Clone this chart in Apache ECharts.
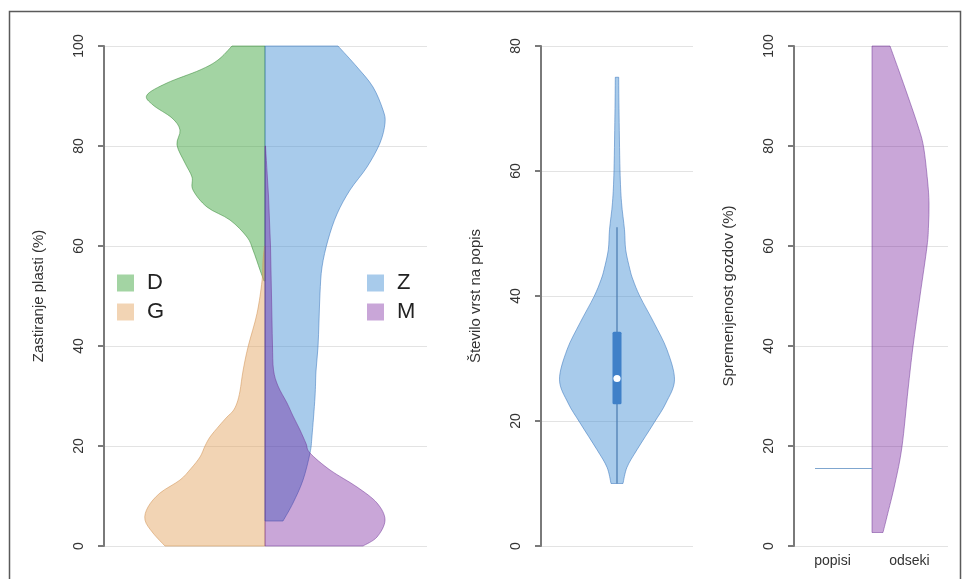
<!DOCTYPE html>
<html>
<head>
<meta charset="utf-8">
<script src="https://cdn.jsdelivr.net/npm/echarts@6/dist/echarts.min.js"></script>
<style>
  html, body { margin: 0; padding: 0; background: #ffffff; }
  #chart { width: 965px; height: 579px; }
</style>
</head>
<body>
<div id="chart"></div>
<script>
// ---- Panel 1: cover of layers (split violins, density half-widths) ----
const dLevels = [100, 97.2, 95.2, 92.6, 90.2, 88.2, 85.6, 83.2, 80.2, 76.6, 73.8, 71.2, 67.8, 65.2, 61.8, 59.2, 55.2, 53];
const dWidths = [0.33, 0.47, 0.65, 0.98, 1.18, 1.12, 0.93, 0.85, 0.88, 0.80, 0.73, 0.72, 0.58, 0.35, 0.18, 0.12, 0.05, 0.01];

const gLevels = [60, 57, 53, 46.5, 39.8, 35, 31, 28.6, 27, 25.8, 24, 21.8, 20, 17.8, 15.5, 13.2, 10.6, 7.8, 5.2, 2.6, 0];
const gWidths = [0.005, 0.02, 0.03, 0.08, 0.17, 0.22, 0.25, 0.28, 0.32, 0.38, 0.46, 0.55, 0.60, 0.65, 0.74, 0.85, 1.05, 1.17, 1.20, 1.12, 1.00];

const zLevels = [100, 95.8, 91.8, 87.2, 84.6, 80.6, 75.8, 71.2, 66.4, 61.2, 55.8, 50.6, 45, 39.8, 35, 29.8, 22, 18.6, 13.2, 8.6, 5];
const zWidths = [0.73, 0.92, 1.08, 1.18, 1.20, 1.15, 1.02, 0.85, 0.72, 0.63, 0.57, 0.55, 0.54, 0.53, 0.51, 0.50, 0.47, 0.45, 0.38, 0.28, 0.18];

const mLevels = [80, 75, 70, 65, 60, 55, 50, 45, 40, 35.2, 32, 28.6, 26, 23.2, 20.5, 18.6, 15.2, 11.8, 8.6, 5.2, 1.8, 0];
const mWidths = [0.005, 0.02, 0.035, 0.045, 0.055, 0.06, 0.065, 0.07, 0.075, 0.085, 0.13, 0.22, 0.28, 0.35, 0.41, 0.45, 0.65, 0.92, 1.12, 1.20, 1.12, 0.98];

// ---- Panel 2: number of species per relevé ----
const speciesLevels = [75, 70, 60.2, 55, 50.6, 47.4, 44.2, 42.6, 39.9, 35.7, 31.4, 26.6, 22.9, 19.7, 15.4, 12.6, 10];
const speciesWidths = [0.017, 0.02, 0.03, 0.045, 0.075, 0.087, 0.13, 0.16, 0.23, 0.37, 0.50, 0.575, 0.49, 0.37, 0.20, 0.10, 0.06];
// whisker low, Q1, median, Q3, whisker high
const speciesBox = [10, 22.7, 26.8, 34.3, 51];

// ---- Panel 3: forest alteration ----
const altCategories = ['popisi', 'odseki'];
const odsekiLevels = [100, 95, 89.9, 84, 79.9, 73.2, 68.6, 64, 59.9, 50, 39.9, 31.2, 19.9, 12.5, 5.9, 2.7];
const odsekiWidths = [0.18, 0.27, 0.36, 0.46, 0.515, 0.555, 0.57, 0.565, 0.55, 0.48, 0.41, 0.36, 0.30, 0.23, 0.15, 0.11];
const popisiValue = 15.5;
const popisiWidth = 0.57;

const colD = 'rgba(51,159,51,0.45)';
const colG = 'rgba(226,159,88,0.45)';
const colZ = 'rgba(62,139,211,0.45)';
const colM = 'rgba(100,1,144,0.35)';

const chart = echarts.init(document.getElementById('chart'), null, { renderer: 'canvas' });

// smooth curve through pixel points (Catmull-Rom as cubic Béziers)
function curveThrough(pts) {
  let d = '';
  for (let i = 0; i < pts.length - 1; i++) {
    const p0 = pts[Math.max(i - 1, 0)], p1 = pts[i], p2 = pts[i + 1], p3 = pts[Math.min(i + 2, pts.length - 1)];
    const c1 = [p1[0] + (p2[0] - p0[0]) / 6, p1[1] + (p2[1] - p0[1]) / 6];
    const c2 = [p2[0] - (p3[0] - p1[0]) / 6, p2[1] - (p3[1] - p1[1]) / 6];
    d += ' C' + c1[0] + ',' + c1[1] + ' ' + c2[0] + ',' + c2[1] + ' ' + p2[0] + ',' + p2[1];
  }
  return d;
}

// half violin: curved outer edge, closed along the centre line at base
function halfViolin(levels, widths, side, base, fill, stroke) {
  return function (params, api) {
    const edge = levels.map((v, i) => api.coord([base + side * widths[i], v]));
    const top = api.coord([base, levels[0]]);
    const bottom = api.coord([base, levels[levels.length - 1]]);
    const d = 'M' + top[0] + ',' + top[1] + ' L' + edge[0][0] + ',' + edge[0][1] +
      curveThrough(edge) + ' L' + bottom[0] + ',' + bottom[1] + ' Z';
    return {
      type: 'path',
      shape: { pathData: d },
      style: { fill: fill, stroke: stroke, lineWidth: 1 }
    };
  };
}

function fullViolin(levels, widths, fill, stroke) {
  return function (params, api) {
    const right = levels.map((v, i) => api.coord([widths[i], v]));
    const left = levels.map((v, i) => api.coord([-widths[i], v])).reverse();
    const d = 'M' + right[0][0] + ',' + right[0][1] + curveThrough(right) +
      ' L' + left[0][0] + ',' + left[0][1] + curveThrough(left) + ' Z';
    return {
      type: 'path',
      shape: { pathData: d },
      style: { fill: fill, stroke: stroke, lineWidth: 1 }
    };
  };
}

function boxRender(params, api) {
  const lo = api.coord([0, speciesBox[0]]);
  const hi = api.coord([0, speciesBox[4]]);
  const q3 = api.coord([-0.045, speciesBox[3]]);
  const q1 = api.coord([0.045, speciesBox[1]]);
  const med = api.coord([0, speciesBox[2]]);
  return {
    type: 'group',
    children: [
      { type: 'line', shape: { x1: lo[0], y1: lo[1], x2: hi[0], y2: hi[1] },
        style: { stroke: '#4f7fb3', lineWidth: 1.3 } },
      { type: 'rect', shape: { x: q3[0], y: q3[1], width: q1[0] - q3[0], height: q1[1] - q3[1], r: 1.5 },
        style: { fill: '#3f80c8' } },
      { type: 'circle', shape: { cx: med[0], cy: med[1], r: 3.6 },
        style: { fill: '#ffffff' } }
    ]
  };
}

function popisiRender(params, api) {
  const a = api.coord([0.78 - popisiWidth, popisiValue]);
  const b = api.coord([0.78, popisiValue]);
  return { type: 'line', shape: { x1: a[0], y1: a[1], x2: b[0], y2: b[1] },
           style: { stroke: '#7fa6cf', lineWidth: 1.2 } };
}

const axisGray = '#7a7a7a';
function yAxisCfg(gridIndex, max, name) {
  return {
    gridIndex: gridIndex, type: 'value', min: 0, max: max, interval: 20,
    name: name, nameLocation: 'middle', nameGap: 58, nameRotate: 90,
    nameTextStyle: { fontSize: 15, color: '#333', fontFamily: 'Liberation Sans' },
    axisLine: { show: true, onZero: false, lineStyle: { color: axisGray, width: 2 } },
    axisTick: { show: true, length: 6, lineStyle: { color: axisGray, width: 2 } },
    axisLabel: { rotate: 90, fontSize: 14, color: '#333', margin: 18, fontFamily: 'Liberation Sans' },
    splitLine: { show: true, lineStyle: { color: '#e3e3e3', width: 1 } }
  };
}

const legendBase = {
  orient: 'vertical', icon: 'rect', itemWidth: 17, itemHeight: 17, itemGap: 7,
  padding: 0, selectedMode: false,
  textStyle: { fontSize: 22, color: '#222', fontFamily: 'Liberation Sans', padding: [0, 0, 0, 8] }
};

const option = {
  animation: false,
  backgroundColor: '#ffffff',
  grid: [
    { left: 104, top: 46, width: 323, height: 500 },
    { left: 541, top: 46, width: 152, height: 500 },
    { left: 794, top: 46, width: 154, height: 500 }
  ],
  legend: [
    Object.assign({}, legendBase, { data: ['D', 'G'], left: 117, top: 272 }),
    Object.assign({}, legendBase, { data: ['Z', 'M'], left: 367, top: 272 })
  ],
  xAxis: [
    { gridIndex: 0, type: 'value', min: -1.61, max: 1.62, show: false },
    { gridIndex: 1, type: 'value', min: -0.76, max: 0.76, show: false },
    { gridIndex: 2, type: 'category', data: altCategories,
      axisLine: { show: false }, axisTick: { show: false },
      axisLabel: { fontSize: 14, color: '#333', margin: 8, fontFamily: 'Liberation Sans' } },
    { gridIndex: 2, type: 'value', min: 0, max: 1.54, show: false }
  ],
  yAxis: [
    yAxisCfg(0, 100, 'Zastiranje plasti (%)'),
    yAxisCfg(1, 80, 'Število vrst na popis'),
    yAxisCfg(2, 100, 'Spremenjenost gozdov (%)')
  ],
  graphic: [
    { type: 'rect', left: 7, top: 9, shape: { x: 0, y: 0, width: 951, height: 600 },
      style: { fill: 'none', stroke: '#5a5a5a', lineWidth: 1.5 }, silent: true, z: 100 }
  ],
  series: [
    { name: 'D', type: 'custom', xAxisIndex: 0, yAxisIndex: 0, data: [[0, 0]],
      itemStyle: { color: colD },
      renderItem: halfViolin(dLevels, dWidths, -1, 0, colD, 'rgba(60,140,60,0.55)') },
    { name: 'G', type: 'custom', xAxisIndex: 0, yAxisIndex: 0, data: [[0, 0]],
      itemStyle: { color: colG },
      renderItem: halfViolin(gLevels, gWidths, -1, 0, colG, 'rgba(210,150,90,0.55)') },
    { name: 'Z', type: 'custom', xAxisIndex: 0, yAxisIndex: 0, data: [[0, 0]],
      itemStyle: { color: colZ },
      renderItem: halfViolin(zLevels, zWidths, 1, 0, colZ, 'rgba(60,120,190,0.55)') },
    { name: 'M', type: 'custom', xAxisIndex: 0, yAxisIndex: 0, data: [[0, 0]],
      itemStyle: { color: colM },
      renderItem: halfViolin(mLevels, mWidths, 1, 0, colM, 'rgba(110,50,150,0.5)') },

    { name: 'species', type: 'custom', xAxisIndex: 1, yAxisIndex: 1, data: [[0, 0]],
      renderItem: fullViolin(speciesLevels, speciesWidths, colZ, 'rgba(60,120,190,0.55)') },
    { name: 'speciesBox', type: 'custom', xAxisIndex: 1, yAxisIndex: 1, data: [[0, 0]], z: 3,
      renderItem: boxRender },

    { name: 'odseki', type: 'custom', xAxisIndex: 3, yAxisIndex: 2, data: [[0, 0]],
      renderItem: halfViolin(odsekiLevels, odsekiWidths, 1, 0.78, colM, 'rgba(110,50,150,0.5)') },
    { name: 'popisi', type: 'custom', xAxisIndex: 3, yAxisIndex: 2, data: [[0, 0]],
      renderItem: popisiRender }
  ]
};

chart.setOption(option);
</script>
</body>
</html>
